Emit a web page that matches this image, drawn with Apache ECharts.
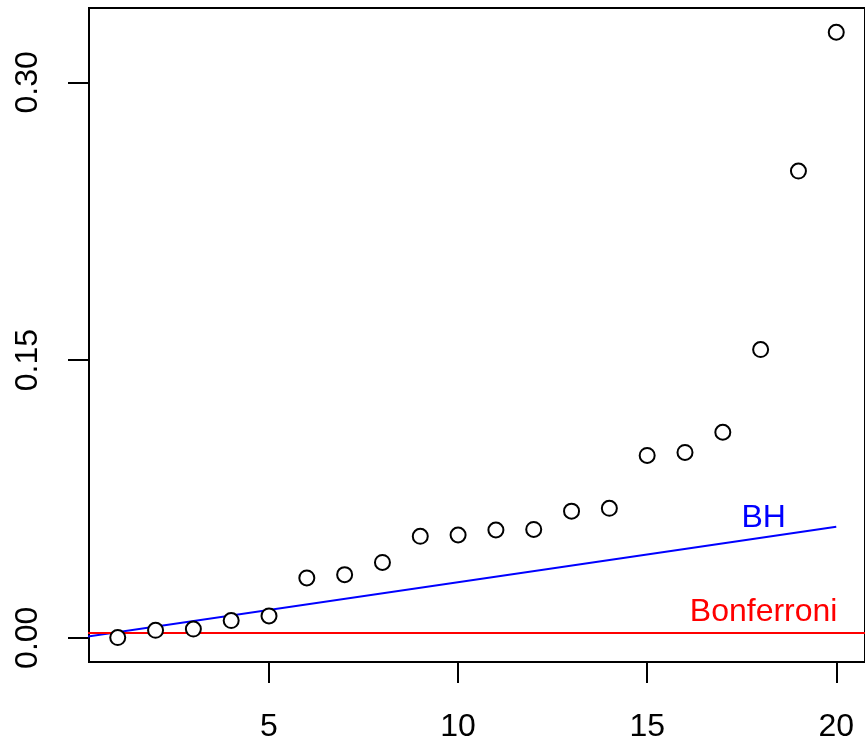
<!DOCTYPE html>
<html>
<head>
<meta charset="utf-8">
<script src="https://cdn.jsdelivr.net/npm/echarts@6/dist/echarts.min.js"></script>
<style>
  html, body { margin: 0; padding: 0; background: #fff; }
  #chart { width: 865px; height: 744px; }
</style>
</head>
<body>
<div id="chart"></div>
<script>
// sorted p-values
var rank = [1, 2, 3, 4, 5, 6, 7, 8, 9, 10, 11, 12, 13, 14, 15, 16, 17, 18, 19, 20];
var pvals = [0.0001, 0.0040, 0.0047, 0.0093, 0.0118, 0.0323, 0.0341, 0.0407, 0.0548, 0.0555,
             0.0582, 0.0585, 0.0684, 0.0699, 0.0985, 0.1001, 0.1110, 0.1557, 0.2521, 0.3271];

// threshold lines
var bhLine = [[0, 0], [20, 0.06]];
var bonferroni = 0.0025;

// ticks
var xTicks = [5, 10, 15, 20];
var yTicks = [0, 0.15, 0.30];

// text annotations
var notes = [
    { name: 'BH', pos: [18.08, 0.0646], color: '#0000ff' },
    { name: 'Bonferroni', pos: [18.08, 0.0139], color: '#ff0000' }
];

var font = '"Liberation Sans", Arial, Helvetica, sans-serif';

var points = rank.map(function (r, i) { return [r, pvals[i]]; });

var option = {
    animation: false,
    backgroundColor: '#fff',
    grid: {
        left: 89, top: 8, width: 779, height: 654,
        show: true, borderColor: '#000', borderWidth: 2
    },
    xAxis: {
        type: 'value',
        min: 0.24, max: 20.76,
        splitLine: { show: false },
        axisLine: { show: false, onZero: false },
        axisTick: { show: true, length: 21, lineStyle: { color: '#000', width: 2 }, customValues: xTicks },
        axisLabel: {
            customValues: xTicks, margin: 49,
            color: '#000', fontSize: 32, fontFamily: font
        }
    },
    yAxis: {
        type: 'value',
        min: -0.0131, max: 0.3402,
        splitLine: { show: false },
        axisLine: { show: false, onZero: false },
        axisTick: { show: true, length: 21, lineStyle: { color: '#000', width: 2 }, customValues: yTicks },
        axisLabel: {
            customValues: yTicks, margin: 45, rotate: 90,
            color: '#000', fontSize: 32, fontFamily: font,
            formatter: function (v) { return v.toFixed(2); }
        }
    },
    series: [
        {
            type: 'line',
            data: bhLine,
            symbol: 'none',
            lineStyle: { color: '#0000ff', width: 2 },
            z: 2
        },
        {
            type: 'line',
            data: [[0, bonferroni], [21, bonferroni]],
            symbol: 'none',
            lineStyle: { color: '#ff0000', width: 2 },
            z: 2
        },
        {
            type: 'scatter',
            data: points,
            symbol: 'circle',
            symbolSize: 15,
            itemStyle: { color: '#fff', borderColor: '#000', borderWidth: 2, opacity: 1 },
            z: 3
        },
        {
            type: 'scatter',
            data: notes.map(function (n) {
                return {
                    value: n.pos,
                    label: { show: true, formatter: n.name, color: n.color }
                };
            }),
            symbolSize: 0,
            itemStyle: { opacity: 1 },
            label: {
                show: true, position: 'inside',
                fontSize: 32, fontFamily: font
            },
            z: 4
        }
    ]
};

var chart = echarts.init(document.getElementById('chart'));
chart.setOption(option);
</script>
</body>
</html>
